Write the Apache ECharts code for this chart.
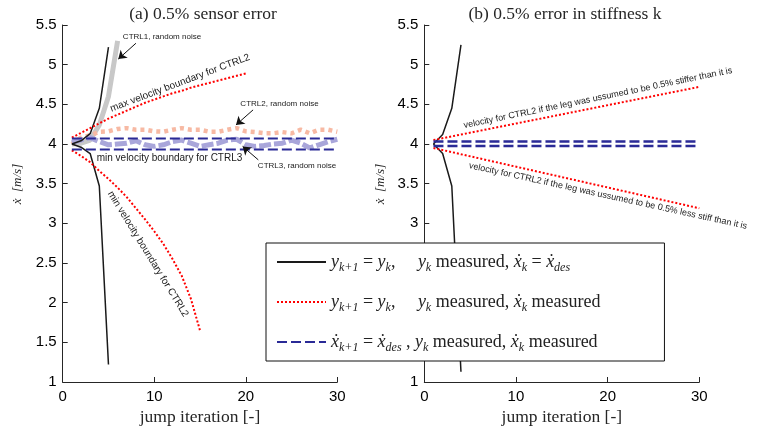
<!DOCTYPE html>
<html style="height: 100%">
<head>
<meta charset="utf-8">
<script src="https://cdn.jsdelivr.net/npm/echarts@6/dist/echarts.min.js"></script>
</head>
<body style="height: 100%; margin: 0; background: #fff">
<div id="container" style="width: 764px; height: 432px"></div>
<script type="text/javascript">
// x = jump iteration, y = velocity
var jumps = [1,2,3,4,5,6,7,8,9,10,11,12,13,14,15,16,17,18,19,20,21,22,23,24,25,26,27,28,29,30];

// (a) 0.5% sensor error
var aCtrl1Up = [4.0, 4.04, 4.13, 4.45, 5.22];
var aCtrl1Down = [4.0, 3.96, 3.88, 3.47, 1.22];
var aNoise1X = [1, 2, 3, 4, 5, 6];
var aNoise1 = [4.0, 4.01, 4.05, 4.24, 4.6, 5.3];
var aCtrl2Max = [4.08,4.14,4.2,4.26,4.32,4.37,4.42,4.47,4.52,4.56,4.6,4.64,4.67,4.71,4.74,4.77,4.8,4.83,4.86,4.89];
var aCtrl2Min = [3.92,3.85,3.77,3.66,3.56,3.45,3.33,3.19,3.05,2.9,2.74,2.55,2.34,2.05,1.65];
var aCtrl3Max = 4.07, aCtrl3Min = 3.93;
var aNoise2 = [4.0,4.08,4.11,4.155,4.16,4.19,4.2,4.18,4.18,4.16,4.155,4.18,4.2,4.18,4.18,4.155,4.155,4.18,4.2,4.16,4.15,4.135,4.135,4.15,4.135,4.18,4.135,4.18,4.18,4.155];
var aNoise3 = [4.02,4.05,4.08,4.03,3.99,4.0,4.01,4.04,3.99,3.97,3.99,4.03,4.05,4.01,3.97,3.99,4.01,4.05,4.06,3.99,3.97,3.98,4.0,4.01,4.05,4.01,3.95,3.99,4.03,4.06];

// (b) 0.5% error in stiffness k
var bCtrl1Up = [4.0, 4.12, 4.45, 5.25];
var bCtrl1Down = [4.0, 3.88, 3.47, 1.13];
var bCtrl2X = [1, 30];
var bCtrl2Stiff = [4.05, 4.72];
var bCtrl2Soft = [3.95, 3.19];
var bCtrl3Max = 4.03, bCtrl3Min = 3.975;

var titles = ['(a) 0.5% sensor error', '(b) 0.5% error in stiffness k'];

function pairs(xs, ys) {
  var out = [];
  for (var i = 0; i < ys.length; i++) out.push([xs[i], ys[i]]);
  return out;
}
function flat(v) { return [[1, v], [30, v]]; }

var serif = 'Liberation Serif';
var sans = 'Liberation Sans';
var ink = '#262626';

var dom = document.getElementById('container');
var myChart = echarts.init(dom);

function xAx(i) {
  return {
    type: 'value', gridIndex: i, min: 0, max: 30, interval: 10,
    name: 'jump iteration [-]', nameLocation: 'middle', nameGap: 26,
    nameTextStyle: {fontFamily: serif, fontSize: 17.5, color: ink},
    axisLine: {lineStyle: {color: ink, width: 1}},
    axisTick: {inside: true, length: 5, lineStyle: {color: ink}},
    axisLabel: {fontFamily: sans, fontSize: 15, color: '#000', margin: 7},
    splitLine: {show: false}
  };
}
function yAx(i) {
  return {
    type: 'value', gridIndex: i, min: 1, max: 5.5, interval: 0.5,
    axisLine: {show: true, lineStyle: {color: ink, width: 1}},
    axisTick: {show: true, inside: true, length: 5, lineStyle: {color: ink}},
    axisLabel: {fontFamily: sans, fontSize: 15, color: '#000', margin: 6},
    splitLine: {show: false}
  };
}

function line(name, gi, data, color, width, type, z) {
  return {
    name: name, type: 'line', xAxisIndex: gi, yAxisIndex: gi,
    data: data, symbol: 'none', animation: false, z: z || 2,
    lineStyle: {color: color, width: width, type: type, cap: 'butt'},
    itemStyle: {color: color}
  };
}

var black = '#1a1a1a', red = '#ff0000', blue = '#2a2a96';

var arrows = line('arrows', 0, [], '#000', 1, 'solid', 6);
arrows.markLine = {
  silent: true, animation: false, symbol: ['none', 'arrow'], symbolSize: 8,
  label: {show: false},
  lineStyle: {color: '#111', width: 1, type: 'solid'},
  data: [
    [{coord: [8.0, 5.27]}, {coord: [6.07, 5.07]}],
    [{coord: [20.8, 4.43]}, {coord: [18.93, 4.24]}],
    [{coord: [21.37, 3.8]}, {coord: [19.66, 3.97]}]
  ]
};

var sub = {fontFamily: serif, fontStyle: 'italic', fontSize: 12, lineHeight: 12, padding: [12, 0, 0, 0], color: '#222'};
var legendText = {
  ctrl1: '{i|y}{s|k+1}{r| = }{i|y}{s|k}{r|,     }{i|y}{s|k}{r| measured, }{i|ẋ}{s|k}{r| = }{i|ẋ}{s|des}',
  ctrl2: '{i|y}{s|k+1}{r| = }{i|y}{s|k}{r|,     }{i|y}{s|k}{r| measured, }{i|ẋ}{s|k}{r| measured}',
  ctrl3: '{i|ẋ}{s|k+1}{r| = }{i|ẋ}{s|des}{r| , }{i|y}{s|k}{r| measured, }{i|ẋ}{s|k}{r| measured}'
};

function note(text, x, y, size, rot) {
  return {
    type: 'text', x: x, y: y, rotation: rot || 0, z: 10,
    style: {text: text, fontFamily: sans, fontSize: size, fill: '#1a1a1a', align: 'center', verticalAlign: 'middle'}
  };
}
function yName(x) {
  return {
    type: 'text', x: x, y: 184, rotation: Math.PI / 2, z: 10,
    style: {text: 'ẋ  [m/s]', fontFamily: serif, fontStyle: 'italic', fontSize: 13, fill: ink, align: 'center', verticalAlign: 'middle'}
  };
}

var option = {
  backgroundColor: '#fff',
  animation: false,
  title: [
    {text: titles[0], left: 198, top: 0, textAlign: 'center', textStyle: {fontFamily: serif, fontWeight: 'normal', fontSize: 17.5, color: ink}},
    {text: titles[1], left: 560, top: 0, textAlign: 'center', textStyle: {fontFamily: serif, fontWeight: 'normal', fontSize: 17.5, color: ink}}
  ],
  grid: [
    {left: 62.7, top: 25, width: 274.6, height: 357},
    {left: 424.3, top: 25, width: 275, height: 357}
  ],
  xAxis: [xAx(0), xAx(1)],
  yAxis: [yAx(0), yAx(1)],
  legend: {
    data: ['ctrl1', 'ctrl2', 'ctrl3'],
    orient: 'vertical', left: 266, top: 243,
    padding: [7, 64, 7, 10], itemGap: 16,
    itemWidth: 49, itemHeight: 14,
    backgroundColor: '#fff', borderColor: '#111', borderWidth: 1,
    selectedMode: false,
    itemStyle: {opacity: 0, borderWidth: 0},
    formatter: function (n) { return legendText[n]; },
    textStyle: {
      color: '#222',
      rich: {
        i: {fontFamily: serif, fontStyle: 'italic', fontSize: 18, lineHeight: 24, color: '#222'},
        r: {fontFamily: serif, fontSize: 18, lineHeight: 24, color: '#222'},
        s: sub
      }
    }
  },
  graphic: [
    yName(18),
    yName(381),
    note('CTRL1, random noise', 162, 37, 8),
    note('max velocity boundary for CTRL2', 180, 83, 10, 0.36),
    note('CTRL2, random noise', 279.5, 104, 8),
    note('min velocity boundary for CTRL3', 169.5, 158, 10),
    note('CTRL3, random noise', 297, 166, 8),
    note('min velocity boundary for CTRL2', 148, 254, 10, -1.02),
    note('velocity for CTRL2 if the leg was ussumed to be 0.5% stiffer than it is', 598, 98, 9, 0.203),
    note('velocity for CTRL2 if the leg was ussumed to be 0.5% less stiff than it is', 608, 196, 9, -0.216)
  ],
  series: [
    line('noise1', 0, pairs(aNoise1X, aNoise1), '#c8c8c8', 5, 'solid', 2),
    line('noise2', 0, pairs(jumps, aNoise2), '#f7b9a3', 4.5, [4, 4], 2),
    line('noise3', 0, pairs(jumps, aNoise3), '#a9a6da', 5, [12, 3], 2),
    line('ctrl1', 0, pairs(jumps, aCtrl1Up), black, 1.5, 'solid', 3),
    line('ctrl1', 0, pairs(jumps, aCtrl1Down), black, 1.5, 'solid', 3),
    line('ctrl2', 0, pairs(jumps, aCtrl2Max), red, 2, [2, 2], 3),
    line('ctrl2', 0, pairs(jumps, aCtrl2Min), red, 2, [2, 2], 3),
    line('ctrl3', 0, flat(aCtrl3Max), blue, 2, [10, 4], 3),
    line('ctrl3', 0, flat(aCtrl3Min), blue, 2, [10, 4], 3),
    arrows,
    line('ctrl1', 1, pairs(jumps, bCtrl1Up), black, 1.5, 'solid', 3),
    line('ctrl1', 1, pairs(jumps, bCtrl1Down), black, 1.5, 'solid', 3),
    line('ctrl2', 1, pairs(bCtrl2X, bCtrl2Stiff), red, 2, [2, 2], 3),
    line('ctrl2', 1, pairs(bCtrl2X, bCtrl2Soft), red, 2, [2, 2], 3),
    line('ctrl3', 1, flat(bCtrl3Max), blue, 2.5, [10, 4], 3),
    line('ctrl3', 1, flat(bCtrl3Min), blue, 2.5, [10, 4], 3)
  ]
};

if (option && typeof option === 'object') {
  myChart.setOption(option, true);
}
</script>
</body>
</html>
